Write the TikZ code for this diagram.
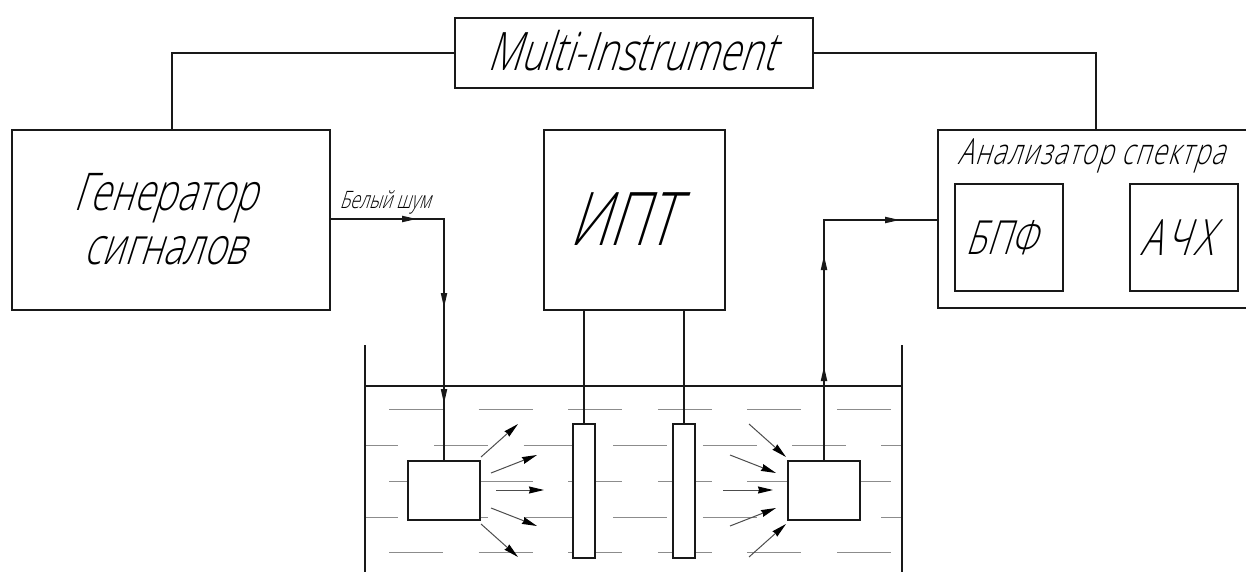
\documentclass[tikz,border=0pt]{standalone}
\usepackage{fontspec}
\newfontfamily\gost[FakeSlant=0.32,FakeStretch=0.72]{Open Sans Light}
\newfontfamily\gostw[FakeSlant=0.32,FakeStretch=0.72,LetterSpace=4]{Open Sans Light}
\newfontfamily\gostx[FakeSlant=0.32,FakeStretch=0.72,LetterSpace=9]{Open Sans Light}
\usetikzlibrary{arrows.meta}
\tikzset{
  x=1pt,y=-1pt,
  box/.style={draw=black!90,line width=2pt,fill=white,inner sep=0pt,align=center,font=\gost},
  wire/.style={draw=black!90,line width=2pt},
  sig/.style={draw=black!90,line width=2pt,-{Stealth[length=15pt,width=6pt,inset=0pt]}},
  fan/.style={draw=black!70,line width=1pt,-{Stealth[length=15pt,width=7pt,inset=1pt,black]}},
  water/.style={draw=black!45,line width=1pt},
}
\begin{document}
\begin{tikzpicture}
\useasboundingbox (0,0) rectangle (1246,572);
% water dashes
\foreach \y in {409,481,552}{\foreach \x in {389,478.6,568.2,657.8,747.4,837}{\draw[water] (\x,\y) -- ++(54,0);}}
\foreach \y in {445,517}{
  \draw[water] (366,\y) -- (398,\y);
  \foreach \x in {434,523.6,613.2,702.8,792.4}{\draw[water] (\x,\y) -- ++(54,0);}
  \draw[water] (881,\y) -- (902,\y);
}
% tank
\draw[wire] (365,345) -- (365,572);
\draw[wire] (902,345) -- (902,572);
\draw[wire] (365,386) -- (902,386);
% boxes
\node[box,minimum width=358pt,minimum height=70pt] (mi) at (633.5,53) {};
\node[inner sep=0pt,font=\gost\fontsize{53}{53}\selectfont] (mitext) at (631,51) {Multi-Instrument};
\node[box,minimum width=318pt,minimum height=180pt] (gen) at (171,220) {};
\node[inner sep=0pt,align=center,font=\gost\fontsize{52}{54}\selectfont] (gentext) at (165,219) {Генератор\\сигналов};
\node[box,minimum width=181pt,minimum height=180pt] (ipt) at (634.5,220) {};
\node[inner sep=0pt,font=\gost\fontsize{74}{74}\selectfont] (ipttext) at (622,219) {ИПТ};
\node[inner sep=0pt,minimum width=308pt,minimum height=178pt] (an) at (1092,219) {};
\draw[wire] (1246,130) -- (938,130) -- (938,308) -- (1246,308);
\node[font=\gostw\fontsize{36}{36}\selectfont,inner sep=0pt] (antitle) at (1091,156) {Анализатор спектра};
\node[box,minimum width=108pt,minimum height=107pt] (fft) at (1009,237.5) {};
\node[inner sep=0pt,font=\gost\fontsize{47}{47}\selectfont] (ffttext) at (1001,238) {БПФ};
\node[box,minimum width=108pt,minimum height=107pt] (afc) at (1184,237.5) {};
\node[inner sep=0pt,font=\gostx\fontsize{50}{50}\selectfont] (afctext) at (1177,238) {АЧХ};
\node[box,minimum width=72pt,minimum height=59pt] (tx) at (444,490.5) {};
\node[box,minimum width=72pt,minimum height=59pt] (rx) at (824,490.5) {};
\node[box,minimum width=22pt,minimum height=134pt] (e1) at (584,491) {};
\node[box,minimum width=22pt,minimum height=134pt] (e2) at (683.5,491) {};
\node[font=\gost\fontsize{24}{24}\selectfont,inner sep=0pt] (noise) at (385,202) {Белый шум};
% connectors
\coordinate (mil) at (172,53);
\coordinate (mir) at (1096,53);
\draw[wire] (mi.west) -- (mil) -- (mil |- gen.north);
\draw[wire] (mi.east) -- (mir) -- (mir |- an.north);
\draw[wire] (ipt.south -| e1) -- (e1.north);
\draw[wire] (ipt.south -| e2) -- (e2.north);
% generator to transmitter
\coordinate (g0) at (gen.east |- 0,219);
\coordinate (g1) at (417,219);
\coordinate (g2) at (444,219);
\coordinate (g3) at (444,308);
\coordinate (g4) at (444,404);
\draw[wire] (g0) -- (g2) -- (tx.north);
\draw[sig] (g0) -- (g1);
\draw[sig] (g2) -- (g3);
\draw[sig] (g3) -- (g4);
% receiver to analyser
\coordinate (r1) at (824,366);
\coordinate (r2) at (824,255);
\coordinate (r3) at (824,220);
\coordinate (r4) at (900,220);
\draw[wire] (rx.north) -- (r3) -- (an.west |- r3);
\draw[sig] (rx.north) -- (r1);
\draw[sig] (r1) -- (r2);
\draw[sig] (r3) -- (r4);
% fans
\foreach \n/\a/\b/\c/\d in {1/481/457/518/424,2/491/473/537/455,3/496/490/544/490,4/491/508/537/526,5/481/524/518/557,
  6/749/424/786/457,7/730/455/776/473,8/723/490/773/490,9/730/526/776/508,10/749/557/786/524}{
  \draw[fan] (\a,\b) -- (\c,\d);
}
\end{tikzpicture}
\end{document}
